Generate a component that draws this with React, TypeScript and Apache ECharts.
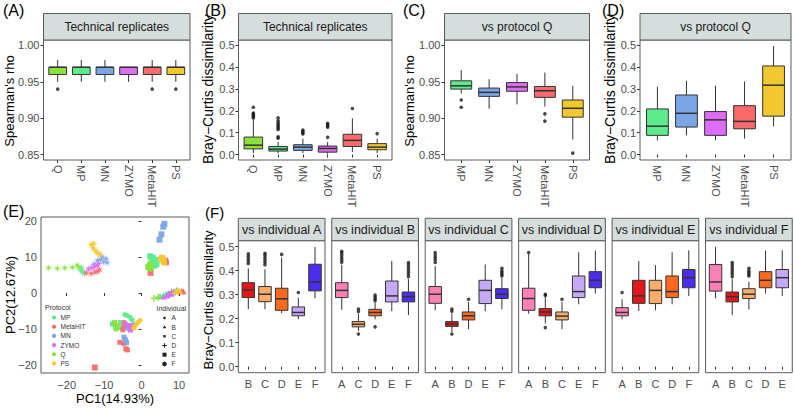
import React, { useEffect, useRef } from 'react';
import * as echarts from 'echarts';

const FONT = '"Liberation Sans", Arial, Helvetica, sans-serif';

// ---------- colours (style, not data) ----------
const protocolColors: Record<string, string> = {
  Q: '#8BE23A', MP: '#5DEB8C', MN: '#7BA6E6', ZYMO: '#DD6CF7', MetaHIT: '#F96B6B', PS: '#F2C82F',
};
const individualColors: Record<string, string> = {
  A: '#FF80B5', B: '#E3171B', C: '#FDAC6A', D: '#FF6A1E', E: '#C5A8F7', F: '#4A2DF0',
};

// ---------- Panel A: Spearman's rho, technical replicates ----------
const catsA = ['Q', 'MP', 'MN', 'ZYMO', 'MetaHIT', 'PS'];
// [lower whisker, Q1, median, Q3, upper whisker]
const boxesA = [
  [0.95, 0.96, 0.97, 0.97, 0.98],
  [0.95, 0.96, 0.97, 0.97, 0.98],
  [0.95, 0.96, 0.97, 0.97, 0.98],
  [0.95, 0.96, 0.97, 0.97, 0.97],
  [0.95, 0.96, 0.97, 0.97, 0.98],
  [0.95, 0.96, 0.97, 0.97, 0.98],
];
const outliersA = [[0, 0.94], [4, 0.94], [5, 0.94]];

// ---------- Panel B: Bray-Curtis, technical replicates ----------
const catsB = ['Q', 'MP', 'MN', 'ZYMO', 'MetaHIT', 'PS'];
const boxesB = [
  [0.007, 0.026, 0.043, 0.080, 0.160],
  [0.006, 0.016, 0.025, 0.037, 0.058],
  [0.007, 0.019, 0.034, 0.045, 0.073],
  [0.003, 0.011, 0.028, 0.039, 0.057],
  [0.011, 0.037, 0.065, 0.093, 0.166],
  [0.007, 0.022, 0.034, 0.050, 0.073],
];
const outliersB = [
  [0, 0.168], [0, 0.174], [0, 0.180], [0, 0.186], [0, 0.190], [0, 0.217],
  [1, 0.075], [1, 0.081], [1, 0.115], [1, 0.122], [1, 0.130], [1, 0.138], [1, 0.146], [1, 0.155], [1, 0.168],
  [2, 0.095], [2, 0.100], [2, 0.106], [2, 0.112],
  [3, 0.079], [3, 0.125], [3, 0.131], [3, 0.137], [3, 0.143],
  [4, 0.211],
  [5, 0.096],
];

// ---------- Panel C: Spearman's rho vs protocol Q ----------
const catsC = ['MP', 'MN', 'ZYMO', 'MetaHIT', 'PS'];
const boxesC = [
  [0.934, 0.940, 0.9445, 0.9514, 0.966],
  [0.913, 0.930, 0.9355, 0.9414, 0.9536],
  [0.919, 0.937, 0.943, 0.949, 0.961],
  [0.916, 0.9286, 0.9377, 0.9436, 0.9627],
  [0.8705, 0.9014, 0.9136, 0.925, 0.9445],
];
const outliersC = [[0, 0.925], [0, 0.915], [3, 0.906], [3, 0.896], [4, 0.852]];

// ---------- Panel D: Bray-Curtis vs protocol Q ----------
const catsD = ['MP', 'MN', 'ZYMO', 'MetaHIT', 'PS'];
const boxesD = [
  [0.065, 0.088, 0.130, 0.209, 0.311],
  [0.088, 0.126, 0.189, 0.273, 0.338],
  [0.065, 0.088, 0.159, 0.197, 0.315],
  [0.073, 0.118, 0.152, 0.224, 0.335],
  [0.129, 0.176, 0.318, 0.406, 0.497],
];
const outliersD: number[][] = [];

// ---------- Panel E: PCoA ----------
// [PC1, PC2, individual index (0=A..5=F)]
const pcaMP = [
  [-16.3, 6.4, 5], [-15.8, 5.8, 5], [-16.0, 7.0, 5], [-15.2, 5.5, 5],
  [2.3, 10.2, 4], [3.0, 9.8, 4], [3.6, 9.2, 4], [2.6, 8.5, 4], [3.4, 7.6, 4], [4.0, 8.0, 4],
  [4.6, -1.0, 1], [5.0, -0.8, 1], [5.8, -0.6, 1], [6.5, -0.3, 1], [7.2, 0.0, 1],
  [-7.8, -8.6, 2], [-7.0, -9.5, 2], [-6.0, -9.6, 2], [-5.6, -8.2, 2],
  [-4.5, -6.0, 0], [-3.8, -6.3, 0], [-3.0, -6.8, 0], [-2.5, -7.5, 0],
];
const pcaMetaHIT = [
  [-14.8, 5.6, 5], [-13.5, 5.4, 5], [-12.5, 5.8, 5], [-11.8, 6.0, 5], [-11.2, 6.5, 5],
  [2.4, 5.6, 4], [6.5, 8.5, 4], [6.3, 9.0, 4], [-12.5, -20.7, 4],
  [10.8, 0.6, 1], [11.2, 0.4, 1], [8.0, 0.2, 3],
  [-4.8, -9.2, 0], [-5.0, -10.2, 2], [-5.8, -13.7, 2], [-4.8, -14.0, 2], [-4.2, -15.5, 2], [-3.8, -15.8, 2], [-4.6, -8.2, 0],
];
const pcaMN = [
  [-12.7, 8.0, 5], [-11.8, 9.0, 5], [-11.0, 9.3, 5], [-10.2, 8.6, 5], [-9.5, 9.5, 5], [-10.5, 10.0, 5], [-9.2, 8.4, 5],
  [4.8, 14.8, 4], [5.3, 16.3, 4], [5.8, 18.4, 4], [6.1, 19.2, 4],
  [7.0, -0.3, 1], [8.5, 0.4, 1], [9.4, 0.8, 1], [8.9, 0.2, 3],
  [-4.7, -12.3, 2], [-4.3, -13.0, 2], [-4.0, -13.8, 2], [-3.9, -9.8, 0], [-3.2, -9.0, 0],
];
const pcaZYMO = [
  [-14.2, 6.7, 5], [-13.3, 7.0, 5], [-12.5, 7.3, 5], [-11.8, 7.6, 5], [-11.5, 8.2, 5],
  [6.0, -1.0, 1], [6.8, -0.7, 1], [7.5, -0.4, 3], [8.0, -0.2, 1],
  [-4.2, -8.6, 0], [-3.5, -9.2, 0], [-2.8, -9.8, 2], [-2.2, -8.8, 0], [-3.0, -10.3, 2],
];
const pcaQ = [
  [-24.8, 7.0, 5], [-22.5, 6.8, 5], [-20.5, 7.0, 5], [-18.5, 7.1, 5], [-17.2, 7.7, 5], [-16.8, 7.2, 5],
  [1.8, 7.2, 4], [2.4, 6.8, 4], [2.2, 7.8, 4],
  [3.3, -1.5, 3], [4.5, -1.2, 3],
  [-7.2, -8.2, 2], [-6.5, -9.0, 2], [-6.8, -10.0, 2],
];
const pcaPS = [
  [-13.5, 13.4, 5], [-13.0, 12.6, 5], [-12.5, 12.0, 5], [-12.0, 11.4, 5], [-11.5, 10.9, 5], [-11.0, 10.6, 5], [-12.8, 13.8, 5],
  [5.2, 9.4, 4], [5.8, 9.0, 4], [6.0, 8.6, 4], [5.5, 9.8, 4],
  [9.0, 0.5, 1], [9.6, 0.9, 1], [10.2, 0.6, 1], [9.8, 0.2, 3],
  [-1.5, -8.8, 0], [-1.0, -8.2, 0], [-0.4, -7.6, 0], [-2.0, -9.6, 2],
];
const pcaProtocols = ['MP', 'MetaHIT', 'MN', 'ZYMO', 'Q', 'PS'];
const pcaSets = [pcaMP, pcaMetaHIT, pcaMN, pcaZYMO, pcaQ, pcaPS];
const individuals = ['A', 'B', 'C', 'D', 'E', 'F'];
const pcTicksX = [-20, -10, 0, 10];
const pcTicksY = [-20, -10, 0, 10, 20];

// ---------- Panel F: Bray-Curtis vs individual ----------
const facetNames = ['A', 'B', 'C', 'D', 'E', 'F'];
const facetCats = [
  ['B', 'C', 'D', 'E', 'F'],
  ['A', 'C', 'D', 'E', 'F'],
  ['A', 'B', 'D', 'E', 'F'],
  ['A', 'B', 'C', 'E', 'F'],
  ['A', 'B', 'C', 'D', 'F'],
  ['A', 'B', 'C', 'D', 'E'],
];
const boxesFA = [
  [0.240, 0.288, 0.320, 0.350, 0.410],
  [0.240, 0.271, 0.302, 0.334, 0.406],
  [0.223, 0.235, 0.283, 0.327, 0.455],
  [0.198, 0.212, 0.226, 0.249, 0.288],
  [0.285, 0.316, 0.353, 0.427, 0.499],
];
const outliersFA = [
  [0, 0.430], [0, 0.440], [0, 0.450], [0, 0.460], [0, 0.470],
  [1, 0.425], [1, 0.435], [1, 0.445], [1, 0.455], [1, 0.465], [1, 0.472],
  [2, 0.468], [3, 0.309],
];
const boxesFB = [
  [0.237, 0.288, 0.318, 0.350, 0.425],
  [0.149, 0.166, 0.177, 0.188, 0.222],
  [0.197, 0.212, 0.226, 0.239, 0.268],
  [0.232, 0.270, 0.295, 0.357, 0.440],
  [0.215, 0.270, 0.292, 0.311, 0.365],
];
const outliersFB = [
  [0, 0.435], [0, 0.445], [0, 0.455], [0, 0.465], [0, 0.475], [0, 0.481],
  [1, 0.230], [1, 0.240], [1, 0.136],
  [2, 0.275], [2, 0.282], [2, 0.290], [2, 0.298], [2, 0.166],
  [4, 0.375], [4, 0.385], [4, 0.395], [4, 0.405], [4, 0.415], [4, 0.425], [4, 0.434],
];
const boxesFC = [
  [0.235, 0.264, 0.302, 0.334, 0.419],
  [0.145, 0.168, 0.178, 0.188, 0.222],
  [0.156, 0.195, 0.212, 0.228, 0.270],
  [0.232, 0.263, 0.318, 0.360, 0.426],
  [0.239, 0.284, 0.302, 0.325, 0.370],
];
const outliersFC = [
  [0, 0.434], [0, 0.445], [0, 0.455], [0, 0.465], [0, 0.476],
  [1, 0.231], [1, 0.240], [1, 0.136],
  [2, 0.281],
  [4, 0.378], [4, 0.385], [4, 0.392], [4, 0.400], [4, 0.410],
];
const boxesFD = [
  [0.221, 0.235, 0.284, 0.327, 0.470],
  [0.180, 0.212, 0.228, 0.242, 0.290],
  [0.156, 0.195, 0.211, 0.228, 0.270],
  [0.260, 0.288, 0.313, 0.378, 0.477],
  [0.305, 0.329, 0.360, 0.396, 0.484],
];
const outliersFD = [[0, 0.476], [1, 0.297], [1, 0.302], [1, 0.163], [2, 0.281]];
const boxesFE = [
  [0.198, 0.212, 0.226, 0.246, 0.281],
  [0.232, 0.264, 0.295, 0.360, 0.440],
  [0.235, 0.263, 0.318, 0.360, 0.423],
  [0.260, 0.288, 0.313, 0.378, 0.477],
  [0.294, 0.329, 0.371, 0.405, 0.485],
];
const outliersFE = [[0, 0.309]];
const boxesFF = [
  [0.285, 0.315, 0.353, 0.426, 0.499],
  [0.215, 0.270, 0.292, 0.311, 0.365],
  [0.239, 0.284, 0.302, 0.325, 0.354],
  [0.305, 0.329, 0.360, 0.396, 0.484],
  [0.294, 0.329, 0.371, 0.405, 0.485],
];
const outliersFF = [
  [1, 0.375], [1, 0.385], [1, 0.395], [1, 0.405], [1, 0.415], [1, 0.425], [1, 0.434],
  [2, 0.378], [2, 0.385], [2, 0.392], [2, 0.400], [2, 0.410],
];
const facetBoxes = [boxesFA, boxesFB, boxesFC, boxesFD, boxesFE, boxesFF];
const facetOutliers = [outliersFA, outliersFB, outliersFC, outliersFD, outliersFE, outliersFF];

// ---------- styling helpers ----------
const TICK_COLOR = '#333333';
const LABEL_COLOR = '#4D4D4D';
const BORDER = '#5A5A5A';
const STRIP_FILL = '#D5DEDC';

const PLUS_PATH = 'path://M4,0h2v4h4v2h-4v4h-2v-4h-4v-2h4z';
function starPath(): string {
  const pts: string[] = [];
  for (let k = 0; k < 16; k++) {
    const a = (k * Math.PI) / 8 - Math.PI / 2;
    const r = k % 2 === 0 ? 10 : 2.6;
    pts.push(`${(10 + r * Math.cos(a)).toFixed(2)},${(10 + r * Math.sin(a)).toFixed(2)}`);
  }
  return 'path://M' + pts.join('L') + 'Z';
}
const STAR_PATH = starPath();
const indSymbols = ['circle', 'triangle', 'rect', PLUS_PATH, 'rect', STAR_PATH];
const indSizes = [5, 6, 5, 7, 6, 9];

interface BoxPanel {
  rect: [number, number, number, number];
  cats: string[];
  boxes: number[][];
  outliers: number[][];
  colors: string[];
  yMin: number; yMax: number; yStep: number; yDec: number;
  showY: boolean;
  rotate: boolean;
  strip: string;
  stripH: number;
  stripFont: number;
}

function buildOption() {
  const grid: any[] = [];
  const xAxis: any[] = [];
  const yAxis: any[] = [];
  const series: any[] = [];
  const graphic: any[] = [];

  const text = (t: string, x: number, y: number, size: number, opts: any = {}) => {
    graphic.push({
      type: 'text', x, y, rotation: opts.rotation || 0, z: 20,
      style: {
        text: t, fontSize: size, fontFamily: FONT, fill: opts.fill || '#000',
        align: opts.align || 'left', verticalAlign: opts.va || 'top',
      },
    });
  };

  const addBoxPanel = (s: BoxPanel) => {
    const gi = grid.length;
    const [x, y, w, h] = s.rect;
    const n = s.cats.length;
    const unit = w / (n + 0.2);
    const inset = unit * 0.1;
    const vpad = (h * 0.05) / 1.1;
    grid.push({ left: x + inset, top: y + vpad, width: w - 2 * inset, height: h - 2 * vpad });
    xAxis.push({
      type: 'category', gridIndex: gi, data: s.cats, offset: vpad,
      axisLine: { show: false },
      axisTick: { show: true, alignWithLabel: true, length: 3, lineStyle: { color: TICK_COLOR, width: 1 } },
      axisLabel: {
        rotate: s.rotate ? -90 : 0, interval: 0, fontSize: 11, fontFamily: FONT, color: LABEL_COLOR,
        margin: s.rotate ? 5 : 6,
      },
      splitLine: { show: false },
    });
    yAxis.push({
      type: 'value', gridIndex: gi, min: s.yMin, max: s.yMax, interval: s.yStep, offset: inset,
      show: s.showY,
      axisLine: { show: false },
      axisTick: { show: true, length: 3, lineStyle: { color: TICK_COLOR, width: 1 } },
      axisLabel: {
        fontSize: 11, fontFamily: FONT, color: LABEL_COLOR, margin: 4,
        formatter: (v: number) => v.toFixed(s.yDec),
      },
      splitLine: { show: false },
    });
    const colors = s.colors;
    series.push({
      type: 'custom', xAxisIndex: gi, yAxisIndex: gi, silent: true,
      data: s.boxes.map((b, i) => [i, ...b]),
      encode: { x: 0, y: [1, 2, 3, 4, 5] },
      renderItem: (params: any, api: any) => {
        const idx = api.value(0);
        const lo = api.coord([idx, api.value(1)]);
        const q1 = api.coord([idx, api.value(2)]);
        const med = api.coord([idx, api.value(3)]);
        const q3 = api.coord([idx, api.value(4)]);
        const hi = api.coord([idx, api.value(5)]);
        const band = api.size([1, 0])[0];
        const bw = band * 0.75;
        const cx = lo[0];
        const ls = { stroke: '#333333', lineWidth: 1 };
        return {
          type: 'group',
          children: [
            { type: 'line', shape: { x1: cx, y1: lo[1], x2: cx, y2: q1[1] }, style: ls },
            { type: 'line', shape: { x1: cx, y1: q3[1], x2: cx, y2: hi[1] }, style: ls },
            {
              type: 'rect', shape: { x: cx - bw / 2, y: q3[1], width: bw, height: Math.max(q1[1] - q3[1], 0.5) },
              style: { fill: colors[params.dataIndex], stroke: '#333333', lineWidth: 1 },
            },
            { type: 'line', shape: { x1: cx - bw / 2, y1: med[1], x2: cx + bw / 2, y2: med[1] }, style: { stroke: '#333333', lineWidth: 1.5 } },
          ],
        };
      },
    });
    series.push({
      type: 'scatter', xAxisIndex: gi, yAxisIndex: gi, silent: true,
      data: s.outliers, symbol: 'circle', symbolSize: 3.6,
      itemStyle: { color: '#1A1A1A' },
    });
    // panel border + strip
    graphic.push({ type: 'rect', z: 15, shape: { x, y, width: w, height: h }, style: { fill: 'none', stroke: BORDER, lineWidth: 1 } });
    graphic.push({ type: 'rect', z: 15, shape: { x, y: y - s.stripH, width: w, height: s.stripH }, style: { fill: STRIP_FILL, stroke: BORDER, lineWidth: 1 } });
    text(s.strip, x + w / 2, y - s.stripH / 2, s.stripFont, { align: 'center', va: 'middle', fill: '#1A1A1A' });
  };

  // top row
  const topY = 40, topH = 120, stripTop = 26.5;
  addBoxPanel({
    rect: [43.5, topY, 146.5, topH], cats: catsA, boxes: boxesA, outliers: outliersA,
    colors: catsA.map((c) => protocolColors[c]), yMin: 0.85, yMax: 1.0, yStep: 0.05, yDec: 2,
    showY: true, rotate: true, strip: 'Technical replicates', stripH: stripTop, stripFont: 12,
  });
  addBoxPanel({
    rect: [238.5, topY, 153.5, topH], cats: catsB, boxes: boxesB, outliers: outliersB,
    colors: catsB.map((c) => protocolColors[c]), yMin: 0, yMax: 0.5, yStep: 0.1, yDec: 1,
    showY: true, rotate: true, strip: 'Technical replicates', stripH: stripTop, stripFont: 12,
  });
  addBoxPanel({
    rect: [444.5, topY, 145, topH], cats: catsC, boxes: boxesC, outliers: outliersC,
    colors: catsC.map((c) => protocolColors[c]), yMin: 0.85, yMax: 1.0, yStep: 0.05, yDec: 2,
    showY: true, rotate: true, strip: 'vs protocol Q', stripH: stripTop, stripFont: 12,
  });
  addBoxPanel({
    rect: [640, topY, 151, topH], cats: catsD, boxes: boxesD, outliers: outliersD,
    colors: catsD.map((c) => protocolColors[c]), yMin: 0, yMax: 0.5, yStep: 0.1, yDec: 1,
    showY: true, rotate: true, strip: 'vs protocol Q', stripH: stripTop, stripFont: 12,
  });

  // bottom row F facets
  const fTop = 240.7, fH = 132, fW = 86.7, fStep = 93.45, fLeft = 238.3;
  facetNames.forEach((name, i) => {
    addBoxPanel({
      rect: [fLeft + i * fStep, fTop, fW, fH], cats: facetCats[i], boxes: facetBoxes[i], outliers: facetOutliers[i],
      colors: facetCats[i].map((c) => individualColors[c]), yMin: 0, yMax: 0.5, yStep: 0.1, yDec: 1,
      showY: i === 0, rotate: false, strip: 'vs individual ' + name, stripH: 22.4, stripFont: 12.5,
    });
  });

  // Panel E scatter
  const ePanel = { x: 41, y: 217, w: 148, h: 156 };
  const gx0 = 66.7, gx1 = 179, gy0 = 221, gy1 = 365;
  const egi = grid.length;
  grid.push({ left: gx0, top: gy0, width: gx1 - gx0, height: gy1 - gy0 });
  const minus = (v: number) => String(v).replace('-', '\u2212');
  xAxis.push({
    type: 'value', gridIndex: egi, min: pcTicksX[0], max: pcTicksX[pcTicksX.length - 1], interval: 10,
    offset: ePanel.y + ePanel.h - gy1,
    axisLine: { show: false },
    axisTick: { show: true, length: 3, lineStyle: { color: TICK_COLOR } },
    axisLabel: { fontSize: 11, fontFamily: FONT, color: LABEL_COLOR, margin: 6, formatter: minus },
    splitLine: { show: false },
  });
  yAxis.push({
    type: 'value', gridIndex: egi, min: pcTicksY[0], max: pcTicksY[pcTicksY.length - 1], interval: 10,
    offset: gx0 - ePanel.x,
    axisLine: { show: false },
    axisTick: { show: true, length: 3, lineStyle: { color: TICK_COLOR } },
    axisLabel: { fontSize: 11, fontFamily: FONT, color: LABEL_COLOR, margin: 4, formatter: minus },
    splitLine: { show: false },
  });
  pcaProtocols.forEach((p, k) => {
    series.push({
      type: 'scatter', xAxisIndex: egi, yAxisIndex: egi, clip: false, silent: true,
      data: pcaSets[k],
      symbol: (v: number[]) => indSymbols[v[2]],
      symbolSize: (v: number[]) => indSizes[v[2]],
      itemStyle: { color: protocolColors[p], opacity: 0.95 },
    });
  });
  graphic.push({ type: 'rect', z: 15, shape: { x: ePanel.x, y: ePanel.y, width: ePanel.w, height: ePanel.h }, style: { fill: 'none', stroke: BORDER, lineWidth: 1 } });

  // E legends
  const legY0 = 317.5, legStep = 9.2;
  text('Protocol', 45, 307.8, 7, { va: 'middle', fill: '#333' });
  pcaProtocols.forEach((p, k) => {
    const yy = legY0 + k * legStep;
    graphic.push({ type: 'circle', z: 20, shape: { cx: 54, cy: yy, r: 2.1 }, style: { fill: protocolColors[p] } });
    text(p, 60.5, yy, 6.5, { va: 'middle', fill: '#333' });
  });
  text('Individual', 156.5, 308.3, 7, { va: 'middle', fill: '#333' });
  individuals.forEach((ind, k) => {
    const yy = legY0 + 0.4 + k * legStep;
    const cx = 164.5;
    const st = { fill: '#222' };
    if (k === 0) graphic.push({ type: 'circle', z: 20, shape: { cx, cy: yy, r: 1.3 }, style: st });
    if (k === 1) graphic.push({ type: 'polygon', z: 20, shape: { points: [[cx, yy - 1.8], [cx - 1.7, yy + 1.2], [cx + 1.7, yy + 1.2]] }, style: st });
    if (k === 2) graphic.push({ type: 'rect', z: 20, shape: { x: cx - 1.2, y: yy - 1.2, width: 2.4, height: 2.4 }, style: st });
    if (k === 3) {
      graphic.push({ type: 'line', z: 20, shape: { x1: cx - 2.3, y1: yy, x2: cx + 2.3, y2: yy }, style: { stroke: '#222', lineWidth: 1 } });
      graphic.push({ type: 'line', z: 20, shape: { x1: cx, y1: yy - 2.3, x2: cx, y2: yy + 2.3 }, style: { stroke: '#222', lineWidth: 1 } });
    }
    if (k === 4) graphic.push({ type: 'rect', z: 20, shape: { x: cx - 2, y: yy - 2, width: 4, height: 4 }, style: st });
    if (k === 5) graphic.push({ type: 'circle', z: 20, shape: { cx, cy: yy, r: 2.3 }, style: st });
    text(ind, 171.5, yy, 6.5, { va: 'middle', fill: '#333' });
  });

  // axis titles
  text("Spearman's rho", 9, 101, 13, { rotation: Math.PI / 2, align: 'center', va: 'middle' });
  text('Bray\u2212Curtis dissimilarity', 208, 89, 14, { rotation: Math.PI / 2, align: 'center', va: 'middle' });
  text("Spearman's rho", 409, 101, 13, { rotation: Math.PI / 2, align: 'center', va: 'middle' });
  text('Bray\u2212Curtis dissimilarity', 610, 89, 14, { rotation: Math.PI / 2, align: 'center', va: 'middle' });
  text('PC2(12.67%)', 10, 295, 13, { rotation: Math.PI / 2, align: 'center', va: 'middle' });
  text('PC1(14.93%)', 115, 398, 13, { align: 'center', va: 'middle' });
  text('Bray\u2212Curtis dissimilarity', 208, 300, 13, { rotation: Math.PI / 2, align: 'center', va: 'middle' });

  // panel tags
  text('(A)', 3, 2, 16);
  text('(B)', 205, 2, 16);
  text('(C)', 403, 2, 16);
  text('(D)', 602, 2, 16);
  text('(E)', 3, 203, 16);
  text('(F)', 205, 205, 15);

  return {
    animation: false,
    backgroundColor: '#ffffff',
    textStyle: { fontFamily: FONT },
    grid, xAxis, yAxis, series,
    graphic: { elements: graphic },
  };
}

export default function App() {
  const ref = useRef<HTMLDivElement>(null);
  useEffect(() => {
    if (!ref.current) return;
    const chart = echarts.init(ref.current, undefined, { renderer: 'svg' });
    chart.setOption(buildOption() as any);
    return () => chart.dispose();
  }, []);
  return (
    <div
      ref={ref}
      style={{ position: 'fixed', left: 0, top: 0, width: 794, height: 408, background: '#fff' }}
    />
  );
}
